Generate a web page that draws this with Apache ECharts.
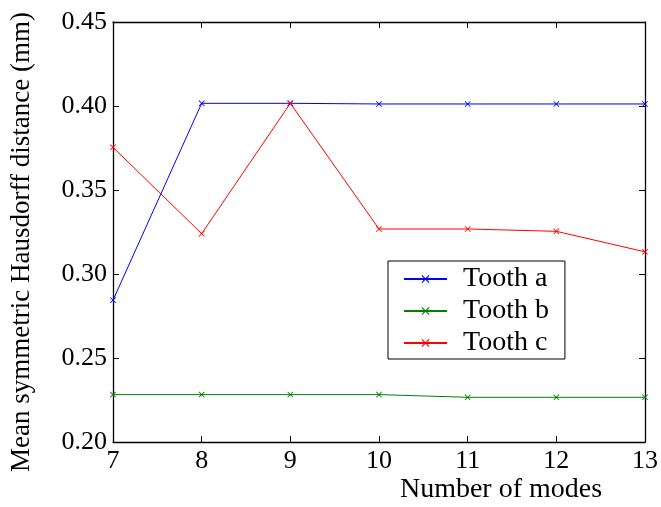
<!DOCTYPE html>
<html>
<head>
<meta charset="utf-8">
<script src="https://cdn.jsdelivr.net/npm/echarts@6/dist/echarts.min.js"></script>
<style>
  html, body { margin: 0; padding: 0; background: #fff; }
  #chart { width: 661px; height: 507px; }
</style>
</head>
<body>
<div id="chart"></div>
<script>
// data
const modes = [7, 8, 9, 10, 11, 12, 13]
const toothA = [0.2844, 0.4016, 0.4016, 0.4012, 0.4012, 0.4012, 0.4012]
const toothB = [0.2282, 0.2282, 0.2282, 0.2282, 0.2266, 0.2266, 0.2266]
const toothC = [0.3754, 0.3240, 0.4016, 0.3268, 0.3268, 0.3254, 0.3132]
const seriesNames = ['Tooth a', 'Tooth b', 'Tooth c']
const seriesColors = ['#0000ff', '#008000', '#ff0000']

const font = 'Liberation Serif'
const cross = 'path://M0,1L1,0L5,4L9,0L10,1L6,5L10,9L9,10L5,6L1,10L0,9L4,5Z'

const chart = echarts.init(document.getElementById('chart'))

const pairs = (ys) => modes.map((x, i) => [x, ys[i]])

const makeSeries = (name, ys, color) => ({
  name: name,
  type: 'line',
  data: pairs(ys),
  symbol: cross,
  symbolSize: 6,
  showSymbol: true,
  color: color,
  lineStyle: { width: 1, color: color },
  itemStyle: { color: color },
  emphasis: { disabled: true },
  animation: false
})

const tickStyle = { show: true, inside: true, length: 6, lineStyle: { color: '#000', width: 1 } }
const lineStyle = { show: true, lineStyle: { color: '#000', width: 1.3 } }

const option = {
  backgroundColor: '#fff',
  grid: { left: 113, right: 16, top: 22, bottom: 65, outerBoundsMode: 'none' },
  legend: {
    orient: 'vertical',
    left: 388,
    top: 261,
    padding: [4, 16, 2, 15],
    itemWidth: 43,
    itemHeight: 10,
    itemGap: 4,
    borderColor: '#000',
    borderWidth: 1,
    backgroundColor: '#fff',
    textStyle: { fontFamily: font, fontSize: 28, lineHeight: 28, color: '#000', padding: [0, 0, 0, 11] },
    data: seriesNames
  },
  xAxis: [
    {
      type: 'value',
      min: 7,
      max: 13,
      interval: 1,
      axisLine: lineStyle,
      axisTick: tickStyle,
      splitLine: { show: false },
      axisLabel: { fontFamily: font, fontSize: 26, color: '#000', margin: 6 }
    },
    {
      type: 'value',
      position: 'top',
      min: 7,
      max: 13,
      interval: 1,
      axisLine: lineStyle,
      axisTick: tickStyle,
      splitLine: { show: false },
      axisLabel: { show: false }
    }
  ],
  yAxis: [
    {
      type: 'value',
      min: 0.2,
      max: 0.45,
      interval: 0.05,
      axisLine: lineStyle,
      axisTick: tickStyle,
      splitLine: { show: false },
      axisLabel: {
        fontFamily: font, fontSize: 26, color: '#000', margin: 6,
        formatter: (v) => v.toFixed(2)
      }
    },
    {
      type: 'value',
      position: 'right',
      min: 0.2,
      max: 0.45,
      interval: 0.05,
      axisLine: lineStyle,
      axisTick: tickStyle,
      splitLine: { show: false },
      axisLabel: { show: false }
    }
  ],
  graphic: [
    {
      type: 'text',
      x: 501,
      y: 490,
      style: {
        text: 'Number of modes', fontFamily: font, fontSize: 28, fill: '#000',
        align: 'center', verticalAlign: 'middle'
      }
    },
    {
      type: 'text',
      x: 22,
      y: 242,
      rotation: Math.PI / 2,
      style: {
        text: 'Mean symmetric Hausdorff distance (mm)', fontFamily: font, fontSize: 27, fill: '#000',
        align: 'center', verticalAlign: 'middle'
      }
    }
  ],
  series: [
    makeSeries(seriesNames[0], toothA, seriesColors[0]),
    makeSeries(seriesNames[1], toothB, seriesColors[1]),
    makeSeries(seriesNames[2], toothC, seriesColors[2])
  ]
}

chart.setOption(option)
</script>
</body>
</html>
